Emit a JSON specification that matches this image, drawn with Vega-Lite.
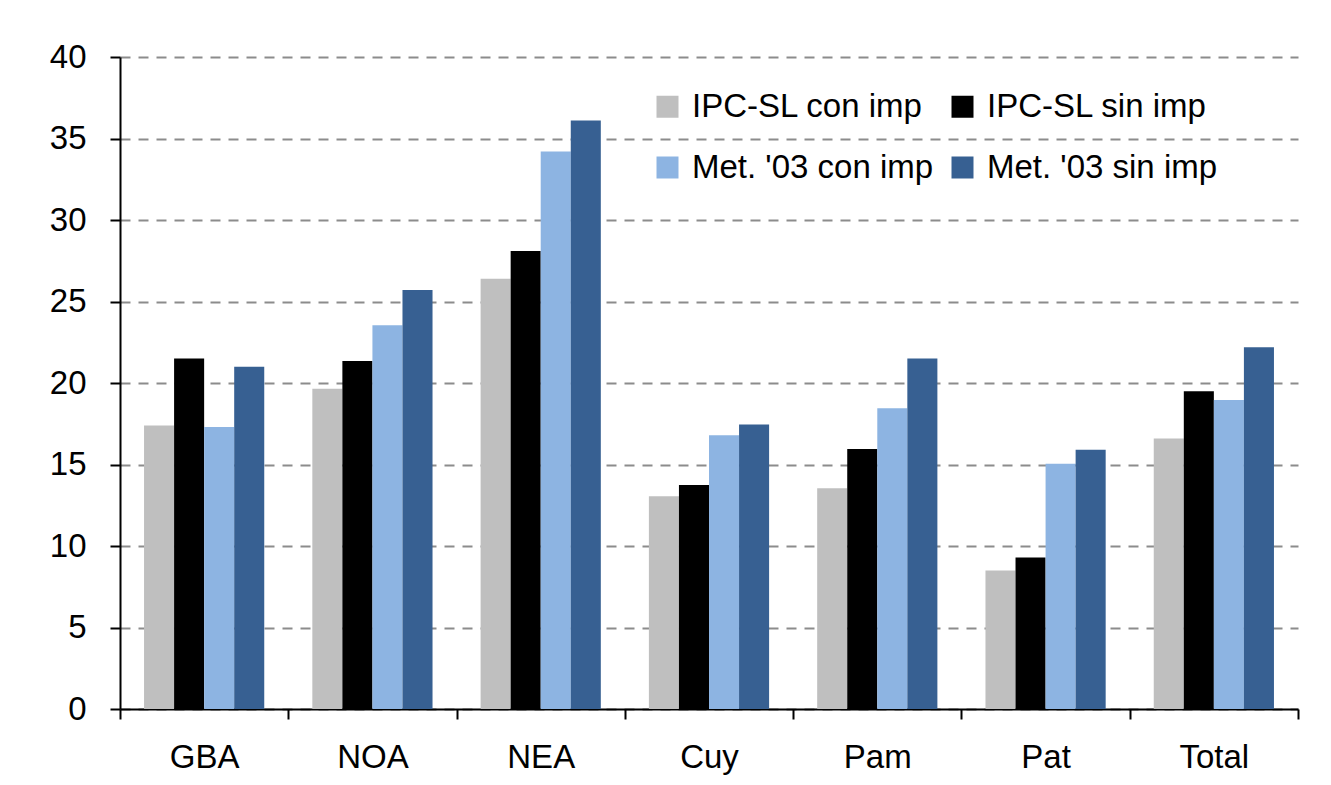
{
  "$schema": "https://vega.github.io/schema/vega-lite/v6.json",
  "autosize": {"type": "none"},
  "width": 1178,
  "height": 652,
  "padding": {"left": 120, "top": 57, "right": 33, "bottom": 76},
  "background": "white",
  "config": {
    "font": "Liberation Sans",
    "view": {"stroke": null},
    "axis": {"labelFont": "Liberation Sans", "labelColor": "#000000", "labelFontSize": 33}
  },
  "data": {
    "values": [
      {"region": "GBA", "serie": "IPC-SL con imp", "valor": 17.4},
      {"region": "GBA", "serie": "IPC-SL sin imp", "valor": 21.5},
      {"region": "GBA", "serie": "Met. '03 con imp", "valor": 17.3},
      {"region": "GBA", "serie": "Met. '03 sin imp", "valor": 21.0},
      {"region": "NOA", "serie": "IPC-SL con imp", "valor": 19.65},
      {"region": "NOA", "serie": "IPC-SL sin imp", "valor": 21.35},
      {"region": "NOA", "serie": "Met. '03 con imp", "valor": 23.55},
      {"region": "NOA", "serie": "Met. '03 sin imp", "valor": 25.7},
      {"region": "NEA", "serie": "IPC-SL con imp", "valor": 26.4},
      {"region": "NEA", "serie": "IPC-SL sin imp", "valor": 28.1},
      {"region": "NEA", "serie": "Met. '03 con imp", "valor": 34.2},
      {"region": "NEA", "serie": "Met. '03 sin imp", "valor": 36.1},
      {"region": "Cuy", "serie": "IPC-SL con imp", "valor": 13.05},
      {"region": "Cuy", "serie": "IPC-SL sin imp", "valor": 13.75},
      {"region": "Cuy", "serie": "Met. '03 con imp", "valor": 16.8},
      {"region": "Cuy", "serie": "Met. '03 sin imp", "valor": 17.45},
      {"region": "Pam", "serie": "IPC-SL con imp", "valor": 13.55},
      {"region": "Pam", "serie": "IPC-SL sin imp", "valor": 15.95},
      {"region": "Pam", "serie": "Met. '03 con imp", "valor": 18.45},
      {"region": "Pam", "serie": "Met. '03 sin imp", "valor": 21.5},
      {"region": "Pat", "serie": "IPC-SL con imp", "valor": 8.5},
      {"region": "Pat", "serie": "IPC-SL sin imp", "valor": 9.3},
      {"region": "Pat", "serie": "Met. '03 con imp", "valor": 15.05},
      {"region": "Pat", "serie": "Met. '03 sin imp", "valor": 15.9},
      {"region": "Total", "serie": "IPC-SL con imp", "valor": 16.6},
      {"region": "Total", "serie": "IPC-SL sin imp", "valor": 19.5},
      {"region": "Total", "serie": "Met. '03 con imp", "valor": 18.95},
      {"region": "Total", "serie": "Met. '03 sin imp", "valor": 22.2}
    ]
  },
  "mark": {"type": "bar"},
  "encoding": {
    "x": {
      "field": "region",
      "type": "nominal",
      "sort": ["GBA", "NOA", "NEA", "Cuy", "Pam", "Pat", "Total"],
      "scale": {"paddingInner": 0, "paddingOuter": 0},
      "axis": {
        "title": null,
        "labelAngle": 0,
        "labelPadding": 22,
        "tickBand": "extent",
        "tickSize": 10,
        "tickColor": "#000000",
        "tickWidth": 2,
        "domainColor": "#000000",
        "domainWidth": 2,
        "grid": false
      }
    },
    "xOffset": {
      "field": "serie",
      "type": "nominal",
      "sort": ["IPC-SL con imp", "IPC-SL sin imp", "Met. '03 con imp", "Met. '03 sin imp"],
      "scale": {"paddingInner": 0, "paddingOuter": 0.8}
    },
    "y": {
      "field": "valor",
      "type": "quantitative",
      "scale": {"domain": [0, 40], "nice": false},
      "axis": {
        "title": null,
        "values": [0, 5, 10, 15, 20, 25, 30, 35, 40],
        "tickSize": 10,
        "tickColor": "#000000",
        "tickWidth": 2,
        "domainColor": "#000000",
        "domainWidth": 2,
        "labelPadding": 24,
        "grid": true,
        "gridColor": "#8c8c8c",
        "gridWidth": 2,
        "gridDash": [10, 8]
      }
    },
    "color": {
      "field": "serie",
      "type": "nominal",
      "sort": ["IPC-SL con imp", "IPC-SL sin imp", "Met. '03 con imp", "Met. '03 sin imp"],
      "scale": {
        "domain": ["IPC-SL con imp", "IPC-SL sin imp", "Met. '03 con imp", "Met. '03 sin imp"],
        "range": ["#BFBFBF", "#000000", "#8DB4E2", "#376092"]
      },
      "legend": {
        "title": null,
        "orient": "none",
        "legendX": 531,
        "legendY": 33,
        "direction": "horizontal",
        "columns": 2,
        "columnPadding": 12,
        "rowPadding": 27,
        "padding": 0,
        "symbolType": "square",
        "symbolSize": 484,
        "symbolStrokeWidth": 0,
        "labelFont": "Liberation Sans",
        "labelFontSize": 33,
        "labelColor": "#000000",
        "labelLimit": 400,
        "labelOffset": 8
      }
    }
  }
}
